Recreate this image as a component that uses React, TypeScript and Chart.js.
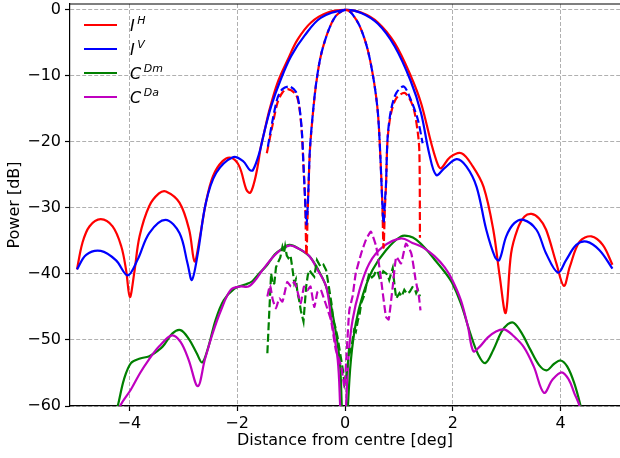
import React, { useEffect, useRef } from "react";
import { Chart, registerables } from "chart.js";

Chart.register(...registerables);

// ---------- tick labels / names ----------
const X_TICKS = [-4, -2, 0, 2, 4];
const Y_TICKS = [-60, -50, -40, -30, -20, -10, 0];
const LEGEND_MAIN = ["I", "I", "C", "C"];
const LEGEND_SUP = ["H", "V", "Dm", "Da"];
const COLORS = ["#ff0000", "#0000ff", "#008000", "#bf00bf"];

// ---------- I^H solid ----------
const IH_X = [-4.97, -4.87, -4.74, -4.53, -4.31, -4.15, -4.06, -3.99, -3.91, -3.81, -3.63, -3.45, -3.32, -3.07, -2.89, -2.79, -2.7, -2.58, -2.45, -2.27, -2.11, -1.96, -1.83, -1.76, -1.69, -1.62, -1.56, -1.5, -1.4, -1.25, -1.06, -0.88, -0.63, -0.32, 0, 0.3, 0.61, 0.92, 1.22, 1.41, 1.6, 1.72, 1.78, 1.95, 2.16, 2.37, 2.57, 2.75, 2.87, 2.98, 3.08, 3.2, 3.33, 3.46, 3.6, 3.73, 3.92, 4.06, 4.17, 4.35, 4.57, 4.78, 4.96];
const IH_Y = [-39.3, -35.3, -32.8, -31.7, -32.8, -35.8, -39.4, -43.5, -39.9, -34.3, -29.7, -27.8, -27.5, -29.2, -33.3, -38.1, -34.8, -29.2, -25.2, -22.9, -22.4, -23.7, -27.2, -27.7, -26.3, -23.7, -20.7, -18.6, -15.1, -11.0, -7.5, -4.5, -1.9, -0.4, 0, -0.4, -1.9, -5.0, -10.0, -14.1, -20.2, -23.4, -24.0, -22.3, -21.7, -23.7, -26.8, -33.3, -40.4, -45.9, -36.9, -33.2, -31.3, -30.9, -31.6, -33.3, -38.4, -41.8, -38.9, -35.1, -34.3, -35.6, -38.6];

// ---------- I^V solid ----------
const IV_X = [-4.97, -4.8, -4.53, -4.25, -4.03, -3.85, -3.63, -3.33, -3.07, -2.92, -2.84, -2.73, -2.58, -2.39, -2.08, -1.89, -1.77, -1.71, -1.59, -1.5, -1.37, -1.19, -1.0, -0.75, -0.45, 0, 0.3, 0.61, 0.92, 1.22, 1.41, 1.56, 1.69, 1.84, 2.07, 2.25, 2.44, 2.62, 2.78, 2.86, 2.99, 3.14, 3.31, 3.55, 3.73, 3.95, 4.1, 4.29, 4.48, 4.72, 4.96];
const IV_Y = [-39.3, -37.1, -36.5, -37.9, -40.2, -37.9, -33.8, -31.8, -33.8, -38.4, -40.9, -36.9, -29.2, -24.7, -22.3, -22.9, -24.2, -24.3, -21.7, -18.6, -14.6, -10.5, -7.0, -3.9, -1.2, 0, -0.45, -2.1, -5.5, -10.8, -15.6, -21.7, -25.0, -24.0, -22.6, -23.7, -26.8, -33.3, -37.4, -37.9, -34.3, -32.3, -31.8, -33.3, -36.9, -39.8, -37.9, -35.6, -35.1, -36.4, -39.2];

// ---------- C^Dm solid ----------
const CDM_X = [-4.28, -4.2, -4.1, -3.97, -3.8, -3.64, -3.5, -3.38, -3.2, -3.05, -2.9, -2.75, -2.65, -2.55, -2.4, -2.25, -2.05, -1.85, -1.72, -1.6, -1.46, -1.3, -1.19, -1.03, -0.85, -0.66, -0.5, -0.35, -0.23, -0.1, -0.06, -0.02, 0.02, 0.055, 0.11, 0.2, 0.33, 0.51, 0.76, 1.04, 1.2, 1.32, 1.5, 1.66, 1.85, 1.99, 2.15, 2.32, 2.47, 2.6, 2.75, 2.9, 3.02, 3.13, 3.28, 3.44, 3.6, 3.74, 3.88, 4.0, 4.12, 4.25, 4.37, 4.45];
const CDM_Y = [-62, -59.5, -56.0, -53.5, -52.8, -52.5, -51.8, -51.0, -49.0, -48.5, -49.8, -52.0, -53.4, -51.5, -47.0, -44.0, -42.2, -41.6, -41.1, -40.0, -38.8, -37.0, -36.3, -35.6, -36.2, -37.3, -39.3, -41.9, -46.0, -53.0, -60, -68, -68, -60, -53.0, -47.5, -43.2, -39.4, -36.4, -34.3, -34.3, -34.8, -36.2, -37.8, -39.7, -41.4, -44.5, -48.9, -52.2, -53.5, -51.5, -48.8, -47.6, -47.4, -49.0, -51.5, -53.8, -54.6, -53.6, -53.1, -54.0, -56.5, -60, -63];

// ---------- C^Da solid ----------
const CDA_X = [-4.22, -4.17, -3.97, -3.8, -3.64, -3.45, -3.21, -3.05, -2.9, -2.73, -2.6, -2.45, -2.3, -2.12, -1.95, -1.79, -1.65, -1.52, -1.26, -1.03, -0.85, -0.66, -0.5, -0.35, -0.26, -0.135, -0.09, -0.05, -0.01, 0.02, 0.07, 0.14, 0.27, 0.45, 0.7, 1.04, 1.25, 1.45, 1.66, 1.85, 1.99, 2.15, 2.28, 2.38, 2.5, 2.65, 2.8, 2.95, 3.1, 3.31, 3.5, 3.69, 3.85, 4.02, 4.15, 4.25, 4.35, 4.42];
const CDA_Y = [-62, -60, -57.5, -55.0, -53.0, -51.0, -49.3, -50.3, -53.0, -57.0, -53.0, -48.9, -45.5, -42.4, -41.9, -41.9, -40.8, -39.3, -36.8, -35.7, -36.2, -37.3, -39.5, -41.9, -46.5, -53.0, -60, -68, -66, -60, -52.0, -47.0, -42.4, -38.4, -35.9, -34.6, -35.3, -36.0, -37.3, -39.0, -40.9, -44.0, -48.0, -51.7, -51.0, -49.6, -48.7, -48.4, -49.2, -51.0, -54.0, -58.0, -56.0, -54.9, -56.0, -58.0, -60, -63];

// ---------- I^H dashed ----------
const IH_D_X = [-1.45, -1.34, -1.25, -1.16, -1.06, -0.91, -0.85, -0.8, -0.77, -0.74, -0.715, -0.69, -0.68, -0.65, -0.6, -0.54, -0.45, -0.32, -0.17, 0, 0.11, 0.27, 0.42, 0.54, 0.61, 0.65, 0.69, 0.715, 0.74, 0.76, 0.79, 0.85, 0.95, 1.11, 1.26, 1.35, 1.38, 1.39];
const IH_D_Y = [-21.7, -17.3, -14.0, -12.5, -12.0, -12.8, -14.6, -18.6, -23.7, -28.8, -37.1, -30.0, -27.7, -21.2, -16.1, -11.5, -7.0, -3.4, -0.9, 0, -0.4, -2.4, -6.0, -11.0, -15.6, -21.2, -28.8, -36.0, -30.0, -26.7, -19.6, -15.8, -13.4, -12.6, -14.6, -18.6, -21.7, -34.5];

// ---------- I^V dashed ----------
const IV_D_X = [-1.43, -1.34, -1.25, -1.16, -1.03, -0.91, -0.85, -0.8, -0.77, -0.74, -0.715, -0.69, -0.68, -0.65, -0.6, -0.54, -0.45, -0.32, -0.17, 0, 0.11, 0.27, 0.42, 0.54, 0.61, 0.65, 0.69, 0.715, 0.74, 0.76, 0.79, 0.85, 0.95, 1.09, 1.22, 1.35, 1.44];
const IV_D_Y = [-20.7, -16.6, -13.3, -12.0, -11.6, -12.4, -14.4, -18.4, -23.5, -28.6, -32.5, -29.5, -27.5, -21.0, -16.0, -11.4, -7.0, -3.4, -0.9, 0, -0.4, -2.4, -6.0, -11.0, -15.6, -21.2, -28.8, -32.3, -29.0, -26.5, -19.4, -15.3, -12.6, -11.6, -13.6, -16.6, -20.2];

// ---------- C^Dm dashed ----------
const CDM_D_X = [-1.44, -1.4, -1.37, -1.34, -1.31, -1.28, -1.25, -1.2, -1.16, -1.13, -1.11, -1.08, -1.05, -1.01, -0.97, -0.94, -0.91, -0.88, -0.85, -0.82, -0.77, -0.74, -0.72, -0.69, -0.66, -0.62, -0.57, -0.52, -0.48, -0.45, -0.4, -0.35, -0.29, -0.25, -0.22, -0.18, -0.14, -0.1, -0.07, -0.04, -0.01, 0.03, 0.06, 0.08, 0.11, 0.14, 0.17, 0.2, 0.24, 0.27, 0.3, 0.36, 0.4, 0.45, 0.5, 0.54, 0.57, 0.6, 0.64, 0.67, 0.71, 0.76, 0.79, 0.82, 0.885, 0.92, 0.95, 1.01, 1.05, 1.1, 1.15, 1.2, 1.25, 1.29, 1.32, 1.35, 1.39];
const CDM_D_Y = [-52.0, -45.0, -39.9, -41.6, -41.4, -39.0, -38.4, -37.5, -35.9, -36.8, -35.8, -37.2, -37.6, -37.2, -39.5, -41.4, -40.8, -42.9, -44.0, -45.5, -47.2, -44.0, -41.9, -40.2, -39.4, -39.9, -40.4, -37.9, -38.5, -38.9, -38.6, -39.4, -42.4, -44.5, -47.0, -48.0, -49.5, -51.5, -53.0, -54.5, -56.6, -55.1, -53.0, -51.0, -51.8, -50.0, -48.5, -48.8, -47.0, -46.2, -44.4, -43.2, -41.5, -39.9, -40.5, -40.2, -39.6, -39.5, -40.6, -40.4, -39.6, -39.9, -40.1, -40.9, -39.1, -41.8, -43.7, -42.9, -43.4, -42.4, -43.0, -42.7, -42.0, -42.2, -42.9, -42.4, -43.4];

// ---------- C^Da dashed ----------
const CDA_D_X = [-1.44, -1.39, -1.34, -1.28, -1.22, -1.16, -1.11, -1.07, -1.0, -0.94, -0.88, -0.82, -0.76, -0.7, -0.64, -0.57, -0.51, -0.45, -0.4, -0.35, -0.26, -0.17, -0.07, -0.01, 0.03, 0.08, 0.14, 0.2, 0.3, 0.39, 0.48, 0.58, 0.67, 0.76, 0.81, 0.885, 0.95, 1.04, 1.13, 1.23, 1.31, 1.37, 1.4];
const CDA_D_Y = [-43.4, -41.7, -43.9, -45.2, -43.7, -44.2, -42.5, -41.2, -41.9, -41.2, -42.7, -44.4, -41.9, -42.5, -41.9, -45.0, -42.7, -42.4, -43.5, -44.7, -47.0, -51.5, -54.0, -57.1, -52.0, -45.5, -43.4, -39.9, -36.9, -34.8, -33.6, -35.9, -40.9, -46.5, -46.9, -41.9, -37.4, -38.4, -35.4, -36.9, -40.9, -43.4, -45.5];

const FONT = '"DejaVu Sans", "Liberation Sans", sans-serif';

function pts(xs: number[], ys: number[]) {
  return xs.map((x, i) => ({ x, y: ys[i] }));
}

function minusFmt(v: number) {
  return v < 0 ? "\u2212" + Math.abs(v) : String(v);
}

const overlayPlugin = {
  id: "overlay",
  afterDraw(chart: any) {
    const { ctx, chartArea: ca } = chart;
    ctx.save();
    // top spine
    ctx.strokeStyle = "#000";
    ctx.lineWidth = 1.2;
    ctx.beginPath();
    ctx.moveTo(ca.left, ca.top);
    ctx.lineTo(ca.right, ca.top);
    ctx.stroke();

    // legend
    const rowY = [25, 49, 73, 97];
    for (let i = 0; i < 4; i++) {
      const y = rowY[i];
      ctx.strokeStyle = COLORS[i];
      ctx.lineWidth = 2.2;
      ctx.setLineDash([]);
      ctx.beginPath();
      ctx.moveTo(84, y);
      ctx.lineTo(117, y);
      ctx.stroke();
      ctx.fillStyle = "#000";
      ctx.textAlign = "left";
      ctx.textBaseline = "alphabetic";
      ctx.font = `italic 16px ${FONT}`;
      ctx.fillText(LEGEND_MAIN[i], 130, y + 6);
      const w = ctx.measureText(LEGEND_MAIN[i]).width;
      ctx.font = `italic 11px ${FONT}`;
      ctx.fillText(LEGEND_SUP[i], 130 + w + 2.5, y - 1);
    }

    // axis titles
    ctx.fillStyle = "#000";
    ctx.font = `16px ${FONT}`;
    ctx.textAlign = "center";
    ctx.textBaseline = "middle";
    ctx.fillText("Distance from centre [deg]", (ca.left + ca.right) / 2, 441);
    ctx.translate(15, (ca.top + ca.bottom) / 2);
    ctx.rotate(-Math.PI / 2);
    ctx.fillText("Power [dB]", 0, 0);
    ctx.restore();
  },
};

export default function App() {
  const ref = useRef<HTMLCanvasElement | null>(null);

  useEffect(() => {
    if (!ref.current) return;
    const solid = (data: any, color: string, order: number) => ({
      data,
      borderColor: color,
      backgroundColor: color,
      borderWidth: 2.2,
      pointRadius: 0,
      fill: false,
      tension: 0.35,
      order,
    });
    const dashed = (data: any, color: string, order: number, tension: number) => ({
      data,
      borderColor: color,
      backgroundColor: color,
      borderWidth: 2.2,
      borderDash: [8, 3.5],
      pointRadius: 0,
      fill: false,
      tension,
      order,
    });
    const datasets = [
      solid(pts(IH_X, IH_Y), COLORS[0], 8),
      solid(pts(IV_X, IV_Y), COLORS[1], 7),
      solid(pts(CDM_X, CDM_Y), COLORS[2], 6),
      solid(pts(CDA_X, CDA_Y), COLORS[3], 5),
      dashed(pts(IH_D_X, IH_D_Y), COLORS[0], 4, 0.3),
      dashed(pts(IV_D_X, IV_D_Y), COLORS[1], 3, 0.3),
      dashed(pts(CDM_D_X, CDM_D_Y), COLORS[2], 2, 0),
      dashed(pts(CDA_D_X, CDA_D_Y), COLORS[3], 1, 0.15),
    ];

    const gridCommon = {
      color: "#b0b0b0",
      lineWidth: 1,
      tickColor: "#000",
      tickLength: 5,
      tickWidth: 1.2,
      tickBorderDash: [],
    };

    const chart = new Chart(ref.current, {
      type: "line",
      data: { datasets } as any,
      options: {
        animation: false,
        responsive: false,
        maintainAspectRatio: false,
        devicePixelRatio: 1,
        parsing: false as any,
        normalized: true,
        layout: { padding: { top: 4, left: 0, right: 0, bottom: 0 } },
        plugins: {
          legend: { display: false },
          tooltip: { enabled: false },
        },
        scales: {
          x: {
            type: "linear",
            min: -5.1,
            max: 5.1,
            afterBuildTicks: (s: any) => {
              s.ticks = X_TICKS.map((v) => ({ value: v }));
            },
            afterFit: (s: any) => {
              s.height = 52;
              s.paddingLeft = 0;
              s.paddingRight = 0;
            },
            grid: gridCommon as any,
            border: { display: true, color: "#000", width: 1.2, dash: [4, 2] } as any,
            ticks: {
              color: "#000",
              font: { family: FONT, size: 16 },
              padding: 3,
              maxRotation: 0,
              autoSkip: false,
              callback: (v: any) => minusFmt(Number(v)),
            },
          },
          y: {
            type: "linear",
            min: -60,
            max: 0.9,
            afterBuildTicks: (s: any) => {
              s.ticks = Y_TICKS.map((v) => ({ value: v }));
            },
            afterFit: (s: any) => {
              s.width = 70;
              s.paddingTop = 0;
              s.paddingBottom = 0;
            },
            grid: gridCommon as any,
            border: { display: true, color: "#000", width: 1.2, dash: [4, 2] } as any,
            ticks: {
              color: "#000",
              font: { family: FONT, size: 16 },
              padding: 4,
              autoSkip: false,
              callback: (v: any) => minusFmt(Number(v)),
            },
          },
        },
      } as any,
      plugins: [overlayPlugin],
    });
    return () => chart.destroy();
  }, []);

  return (
    <div style={{ position: "absolute", left: 0, top: 0, width: 620, height: 458, background: "#fff" }}>
      <canvas ref={ref} width={620} height={458} style={{ display: "block", width: 620, height: 458 }} />
    </div>
  );
}
